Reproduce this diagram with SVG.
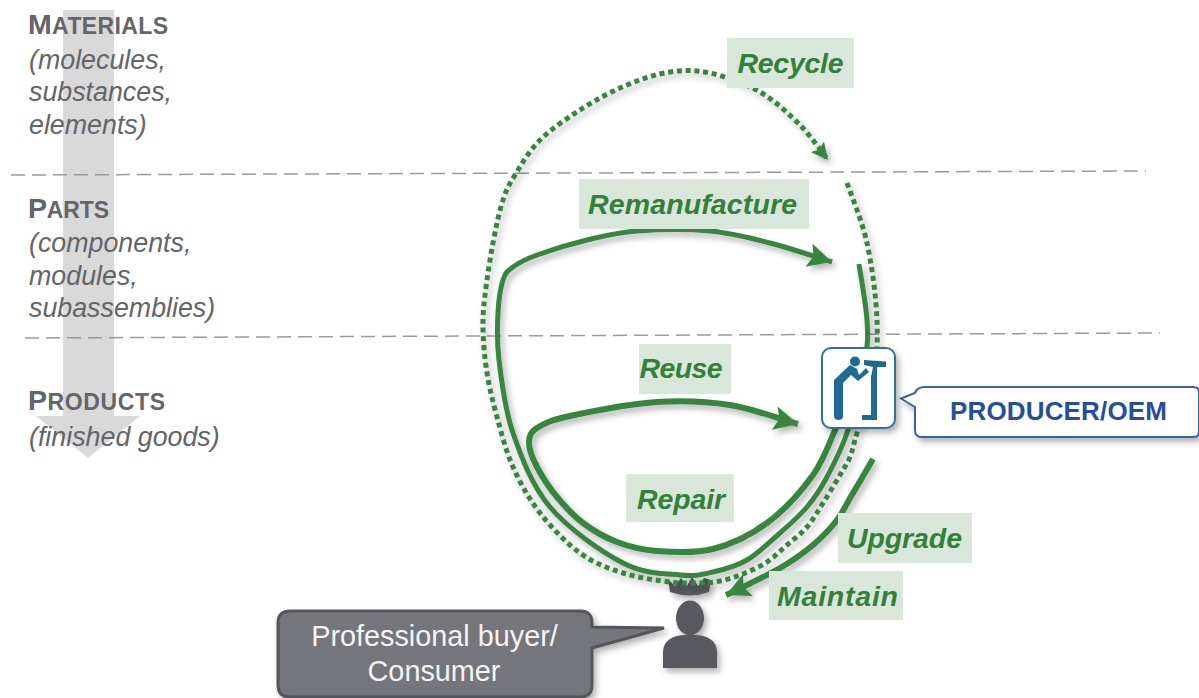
<svg xmlns="http://www.w3.org/2000/svg" width="1199" height="698" viewBox="0 0 1199 698">
<style>
text{font-family:"Liberation Sans",Arial,sans-serif}
.cap{font-weight:700;fill:#646569;font-size:23px}
.cap .b{font-size:28.500px}
.sub{font-style:italic;fill:#646569;font-size:26.800px}
.lb{font-weight:700;font-style:italic;fill:#33803b;font-size:28.500px;text-anchor:middle}
.lbg{fill:#d9e7da}
.dash{stroke:#9a9a9e;stroke-width:1.5;stroke-dasharray:14 7;fill:none}
.solid{fill:none;stroke:#38853f;stroke-width:6;stroke-linecap:butt}
.slim{stroke-width:5}
.dot{fill:none;stroke:#38853f;stroke-width:5;stroke-dasharray:5 3.800}
</style>
<defs>
<filter id="sh" x="-20%" y="-20%" width="150%" height="150%"><feDropShadow dx="3" dy="4" stdDeviation="3" flood-color="#000" flood-opacity=".3"/></filter>
<marker id="ah" markerUnits="userSpaceOnUse" viewBox="0 0 10 10" refX="10" refY="5" markerWidth="24" markerHeight="24" orient="auto"><path d="M0 0L10 5L0 10L2 5Z" fill="#38853f"/></marker>
<marker id="ah2" markerUnits="userSpaceOnUse" viewBox="0 0 10 10" refX="10" refY="5" markerWidth="17" markerHeight="17" orient="auto"><path d="M0 0L10 5L0 10L2 5Z" fill="#38853f"/></marker>
</defs>

<g id="level-arrow"><path d="M63 10H114V416H140L88 458L36 416H63Z" fill="#d9d9d9"/></g>

<g id="levels">
<text x="28" y="34" class="cap" textLength="140"><tspan class="b">M</tspan>ATERIALS</text>
<text class="sub"><tspan x="29" y="69">(molecules,</tspan><tspan x="29" y="101">substances,</tspan><tspan x="29" y="134">elements)</tspan></text>
<text x="28" y="218" class="cap" textLength="81"><tspan class="b">P</tspan>ARTS</text>
<text class="sub"><tspan x="29" y="252">(components,</tspan><tspan x="29" y="285">modules,</tspan><tspan x="29" y="317">subassemblies)</tspan></text>
<text x="28" y="410" class="cap" textLength="137"><tspan class="b">P</tspan>RODUCTS</text>
<text x="29" y="446" class="sub">(finished goods)</text>
</g>

<g id="dividers">
<path class="dash" d="M11 175L1146 171"/>
<path class="dash" d="M25 338L1160 333"/>
</g>

<g id="consumer" filter="url(#sh)" fill="#58595f">
<path d="M668 579L675 586L681 578L687 586L692 577L698 586L704 578L711 580L709 592Q690 599 670 592Z"/>
<ellipse cx="690" cy="618" rx="14" ry="17.500"/>
<path d="M663 668V652C663 641 672 635 686 635H694C708 635 717 641 717 652V668Z"/>
</g>

<g id="connectors" filter="url(#sh)">
<path class="dot" marker-end="url(#ah2)" d="M847 183C850.300 193 862 220.200 867 243C872 265.800 876 296.300 877 320C878 343.700 876.300 366.200 873 385C869.700 403.800 860.800 421 857 433C853.200 445 852.800 450 850 457C847.200 464 844.500 467.300 840 475C835.500 482.700 828.500 494.300 823 503C817.500 511.700 813 520 807 527C801 534 793.700 539.200 787 545C780.300 550.800 774.300 557.200 767 562C759.700 566.800 750.800 570.800 743 574C735.200 577.200 727.200 579.500 720 581C712.800 582.500 708.300 582.800 700 583C691.700 583.200 682.800 583.700 670 582C657.200 580.300 638 577.800 623 573C608 568.200 593.800 563 580 553C566.200 543 551.200 527.300 540 513C528.800 498.700 520.200 483 513 467C505.800 451 501.300 432.700 497 417C492.700 401.300 489.300 387.500 487 373C484.700 358.500 483.300 343 483 330C482.700 317 483.300 309.500 485 295C486.700 280.500 490 258.800 493 243C496 227.200 499.300 211.300 503 200C506.700 188.700 508.800 185 515 175C521.200 165 528.700 151.200 540 140C551.300 128.800 568.500 117.200 583 108C597.500 98.800 612.500 91 627 85C641.500 79 656.200 74 670 72C683.800 70 695 69.700 710 73C725 76.300 745 83.300 760 92C775 100.700 788.700 113.700 800 125C811.300 136.300 823.300 154.200 828 160"/>
<path class="solid slim" marker-end="url(#ah)" d="M859 264C860.300 273.300 866 304 867 320C868 336 868.200 341.700 865 360C861.800 378.300 854.300 410.500 848 430C841.700 449.500 833.800 464.200 827 477C820.200 489.800 814.800 497.700 807 507C799.200 516.300 790 524.200 780 533C770 541.800 758.200 553.500 747 560C735.800 566.500 724.200 569.500 713 572C701.800 574.500 695 576.500 680 575C665 573.500 644.700 574.300 623 563C601.300 551.700 568.300 528.700 550 507C531.700 485.300 521.500 457.500 513 433C504.500 408.500 501.500 380 499 360C496.500 340 497.300 326.300 498 313C498.700 299.700 500.500 287.700 503 280C505.500 272.300 507.300 271.200 513 267C518.700 262.800 524.700 259.500 537 255C549.300 250.500 570.300 244 587 240C603.700 236 616.500 232.500 637 231C657.500 229.500 687.800 229 710 231C732.200 233 749.700 237.800 770 243C790.300 248.200 822 259 832 262"/>
<path class="solid" marker-end="url(#ah)" d="M836 428C832 436 824.500 459 813 475C801.500 491 783.700 510.700 767 523C750.300 535.300 731.300 544.300 713 549C694.700 553.700 673 552.200 657 551C641 549.800 629.200 546.700 617 542C604.800 537.300 593 530.500 583 523C573 515.500 564.700 506.300 557 497C549.300 487.700 541.700 476 537 467C532.300 458 529 449.500 529 443C529 436.500 530.200 432.500 537 428C543.800 423.500 550 420.300 570 416C590 411.700 630.300 403.800 657 402C683.700 400.200 706.500 401.300 730 405C753.500 408.700 786 421 798 424"/>
<path class="solid" marker-end="url(#ah)" d="M873 459C869.700 464.700 859 483.200 853 493C847 502.800 843.700 511.300 837 520C830.300 528.700 822.500 537 813 545C803.500 553 791.700 561.300 780 568C768.300 574.700 752.200 582.500 743 587C740 589 732 592.300 726 595"/>
</g>

<g id="label-recycle"><rect class="lbg" x="727" y="38" width="127" height="50"/><text class="lb" x="790.500" y="73" textLength="106">Recycle</text></g>
<g id="label-remanufacture"><rect class="lbg" x="579" y="179" width="230" height="50"/><text class="lb" x="692.500" y="214" textLength="209">Remanufacture</text></g>
<g id="label-reuse"><rect class="lbg" x="639" y="344" width="92" height="50"/><text class="lb" x="681" y="378" textLength="83">Reuse</text></g>
<g id="label-repair"><rect class="lbg" x="626" y="474" width="108" height="48"/><text class="lb" x="681" y="509" textLength="88">Repair</text></g>
<g id="label-upgrade"><rect class="lbg" x="838" y="513" width="134" height="50"/><text class="lb" x="904.500" y="548" textLength="115">Upgrade</text></g>
<g id="label-maintain"><rect class="lbg" x="769" y="571" width="134" height="49"/><text class="lb" x="837.500" y="606" textLength="121">Maintain</text></g>

<g id="producer-icon">
<rect x="822" y="348" width="73" height="80" rx="9" fill="#fff" stroke="#2f7396" stroke-width="2" filter="url(#sh)"/>
<g fill="#1d6a92">
<circle cx="855" cy="361.500" r="5"/>
<path d="M864 360L886 361.500V367H877V420H862V415H871V377L873 367L864 365Z"/>
<path d="M834 416V380L850 365L857 369L859 375L866 368L869 372L858 381L851 375L843 383V416Q843 420 838.500 420Q834 420 834 416Z"/>
</g>
</g>

<g id="producer-callout">
<path d="M925 387H1193Q1199 387 1199 392V432Q1199 437 1193 437H922Q915 437 915 430V407L901 398.500L915 393Q917 387 925 387Z" fill="#fff" stroke="#3b62a9" stroke-width="2" filter="url(#sh)"/>
<text x="1058.500" y="420" text-anchor="middle" font-size="26" font-weight="700" fill="#254e9b" textLength="217">PRODUCER/OEM</text>
</g>

<g id="consumer-callout">
<path d="M290 611H580Q592 611 592 623V627L664 628L592 648V685Q592 697 580 697H290Q278 697 278 685V623Q278 611 290 611Z" fill="#75767c" stroke="#55565c" stroke-width="3" filter="url(#sh)"/>
<text text-anchor="middle" font-size="28.800" fill="#f4f4f4"><tspan x="434.500" y="646">Professional buyer/</tspan><tspan x="434" y="681">Consumer</tspan></text>
</g>
</svg>
